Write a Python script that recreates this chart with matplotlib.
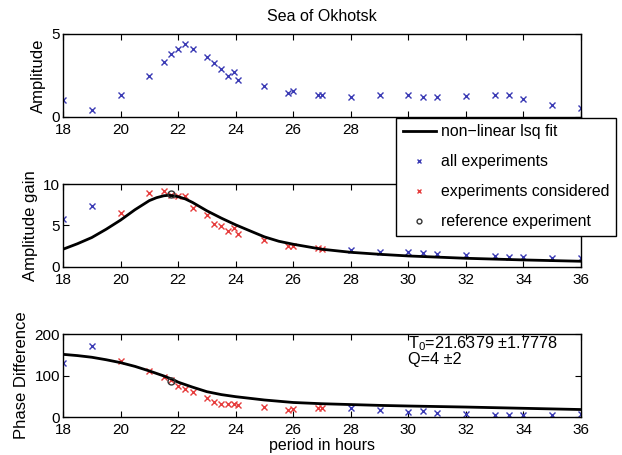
import numpy as np
import matplotlib.pyplot as plt

plt.rcParams['font.family'] = ['Liberation Sans', 'DejaVu Sans']
plt.rcParams['mathtext.fontset'] = 'custom'
plt.rcParams['mathtext.rm'] = 'Liberation Sans'
plt.rcParams['mathtext.it'] = 'Liberation Sans'

# period of each experiment (hours)
period = [18, 19, 20, 21, 21.5, 21.75, 22, 22.25, 22.5, 23, 23.25, 23.5, 23.75,
          23.93, 24.07, 25, 25.82, 26, 26.87, 27, 28, 29, 30, 30.5, 31, 32, 33,
          33.5, 34, 35, 36]
amplitude = [1.04, 0.44, 1.32, 2.46, 3.34, 3.8, 4.12, 4.4, 4.1, 3.64, 3.24, 2.88,
             2.48, 2.74, 2.24, 1.88, 1.42, 1.58, 1.34, 1.32, 1.22, 1.32, 1.32,
             1.22, 1.22, 1.28, 1.34, 1.32, 1.08, 0.7, 0.56]
gain = [5.77, 7.34, 6.53, 8.87, 9.15, 8.7, 8.5, 8.5, 7.1, 6.29, 5.24, 4.92, 4.31,
        4.68, 3.95, 3.23, 2.5, 2.5, 2.3, 2.22, 2.06, 1.77, 1.85, 1.69, 1.57, 1.45,
        1.33, 1.21, 1.21, 1.13, 1.05]
phase = [129, 171, 135, 112, 96, 88, 74, 68, 61, 46, 37, 32, 32, 32, 30, 23, 16,
         20, 21, 21, 22, 16, 13, 14, 10, 7, 6, 5, 6, 6, 7]
considered = [False, False] + [True] * 18 + [False] * 11

# reference experiment
ref_period = 21.75
ref_gain = 8.75
ref_phase = 87

# fitted curve
fit_period = [18, 18.5, 19, 19.5, 20, 20.5, 21, 21.25, 21.5, 21.64, 21.8, 22, 22.25,
              22.5, 23, 23.5, 24, 24.5, 25, 25.5, 26, 27, 28, 29, 30, 32, 34, 36]
fit_gain = [2.14, 2.8, 3.55, 4.55, 5.65, 6.9, 8.0, 8.35, 8.58, 8.63, 8.6, 8.47,
            8.2, 7.78, 6.77, 5.89, 5.08, 4.35, 3.63, 3.1, 2.74, 2.14, 1.77, 1.53,
            1.33, 1.05, 0.85, 0.69]
fit_phase = [151, 148, 144, 138, 131, 122, 111, 105, 99, 95, 91, 84, 78, 72, 61,
             54, 49, 45, 41, 38, 35, 32, 30, 28, 26.5, 24, 21, 18]

blue = '#3a3ab4'
red = '#e63c3c'
xticks = list(range(18, 37, 2))
# top panel: labels from 30 on sit under the legend box
top_xlabels = [str(t) if t < 30 else '' for t in xticks]

fig = plt.figure(figsize=(6.22, 4.55), dpi=100)
ax1 = fig.add_axes([0.1013, 0.7429, 0.8328, 0.1824])
ax2 = fig.add_axes([0.1013, 0.4132, 0.8328, 0.1824])
ax3 = fig.add_axes([0.1013, 0.0835, 0.8328, 0.1824])

per = np.array(period)
cons = np.array(considered)

ax1.plot(period, amplitude, 'x', color=blue, ms=4, mew=1)
ax1.set_ylim(0, 5)
ax1.set_yticks([0, 5])
ax1.set_ylabel('Amplitude', fontsize=12)
ax1.set_title('Sea of Okhotsk', fontsize=11.5, pad=9)

h_all, = ax2.plot(per[~cons], np.array(gain)[~cons], 'x', color=blue, ms=4, mew=1)
h_con, = ax2.plot(per[cons], np.array(gain)[cons], 'x', color=red, ms=4, mew=1)
h_fit, = ax2.plot(fit_period, fit_gain, '-', color='k', lw=2)
h_ref, = ax2.plot([ref_period], [ref_gain], 'o', mfc='none', mec='#333333', ms=5, mew=1)
ax2.set_ylim(0, 10)
ax2.set_yticks([0, 5, 10])
ax2.set_ylabel('Amplitude gain', fontsize=12)

ax3.plot(per[~cons], np.array(phase)[~cons], 'x', color=blue, ms=4, mew=1)
ax3.plot(per[cons], np.array(phase)[cons], 'x', color=red, ms=4, mew=1)
ax3.plot(fit_period, fit_phase, '-', color='k', lw=2)
ax3.plot([ref_period], [ref_phase], 'o', mfc='none', mec='#333333', ms=5, mew=1)
ax3.set_ylim(0, 200)
ax3.set_yticks([0, 100, 200])
ax3.set_ylabel('Phase Difference', fontsize=12)
ax3.set_xlabel('period in hours', fontsize=11.5, labelpad=1)
ax3.text(30.0, 199, 'T$_{0}$=21.6379 \u00b11.7778\nQ=4 \u00b12', fontsize=11.7,
         va='top', ha='left', linespacing=0.9)

for ax in (ax1, ax2, ax3):
    ax.set_xlim(18, 36)
    ax.set_xticks(xticks)
    ax.tick_params(direction='in', top=True, right=True, length=4,
                   labelsize=11, width=0.8)
    ax.tick_params(axis='x', pad=4)
    ax.tick_params(axis='y', pad=2)
    for s in ax.spines.values():
        s.set_linewidth(1.0)
ax1.set_xticklabels(top_xlabels)

leg = fig.legend([h_fit, h_all, h_con, h_ref],
                 ['non\u2212linear lsq fit', 'all experiments',
                  'experiments considered', 'reference experiment'],
                 loc='upper left', bbox_to_anchor=(0.637, 0.741),
                 fontsize=11.4, frameon=True, fancybox=False, edgecolor='k',
                 framealpha=1, labelspacing=0.95, handlelength=2.1,
                 borderpad=0.4, borderaxespad=0, handletextpad=0.35,
                 markerscale=0.7)
leg.get_frame().set_linewidth(1.0)
leg.set_zorder(10)

fig.savefig('out.png', dpi=100)
